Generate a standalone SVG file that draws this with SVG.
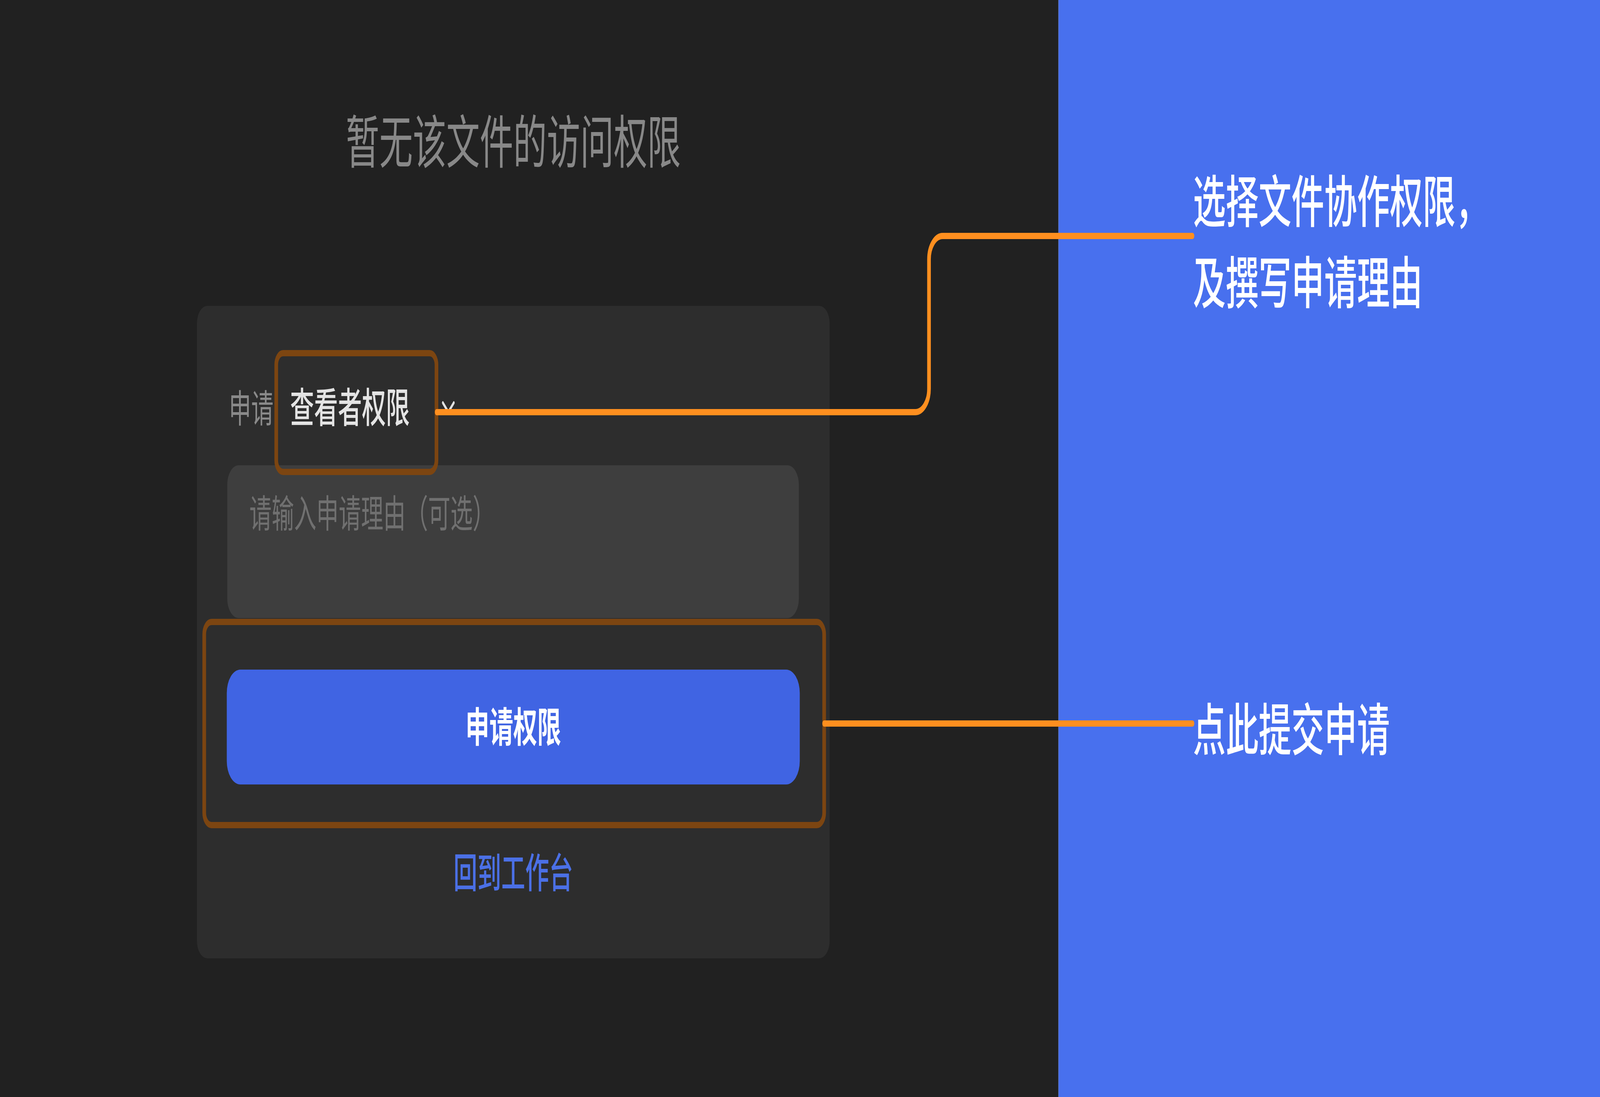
<svg xmlns="http://www.w3.org/2000/svg" width="7020" height="2808" viewBox="0 0 7020 2808" preserveAspectRatio="none" style="width:100%;height:100%">
<style>
text{font-family:"Noto Sans CJK SC","Noto Sans",sans-serif}
.hl{fill:none;stroke:#7c4511;stroke-width:16}
.conn{fill:none;stroke:#ff8f1f;stroke-width:16;stroke-linecap:round;stroke-linejoin:round}
.note{fill:#ffffff;font-size:144px;font-weight:500}
</style>
<rect id="bg" x="0" y="0" width="4644" height="2808" fill="#212121"/>
<rect id="panel" x="4644" y="0" width="2376" height="2808" fill="#4870ee"/>
<g id="title"><text x="2252" y="417" font-size="147" fill="#888888" text-anchor="middle">暂无该文件的访问权限</text></g>
<g id="card">
<rect x="864" y="783" width="2776" height="1670" rx="45" fill="#2d2d2d"/>
</g>
<g id="selector">
<text x="1004" y="1081" font-size="98" fill="#8a8a8a">申请</text>
<text x="1273" y="1081" font-size="105" font-weight="500" fill="#e4e4e4">查看者权限</text>
<polyline points="1943,1031 1967,1055 1991,1031" fill="none" stroke="#e2e2e2" stroke-width="8" stroke-linecap="round" stroke-linejoin="round"/>
</g>
<g id="reason-input">
<rect x="997" y="1191" width="2508" height="391" rx="50" fill="#3e3e3e"/>
<text x="1094" y="1350" font-size="98" fill="#707070">请输入申请理由（可选）</text>
</g>
<g id="apply-button">
<rect x="995" y="1714" width="2514" height="294" rx="60" fill="#4064e3"/>
<text x="2252" y="1899" font-size="105" font-weight="700" fill="#ffffff" text-anchor="middle">申请权限</text>
</g>
<g id="back-link"><text x="2252" y="2272" font-size="105" font-weight="500" fill="#4b70e6" text-anchor="middle">回到工作台</text></g>
<g id="highlight-selector"><rect class="hl" x="1212" y="904" width="703" height="304" rx="30"/></g>
<g id="highlight-button"><rect class="hl" x="896" y="1592" width="2720" height="520" rx="32"/></g>
<g id="connectors">
<path class="conn" d="M1916,1055 H4016 A60,60 0 0 0 4076,995 V664 A60,60 0 0 1 4136,604 H5232"/>
<path class="conn" d="M3616,1852 H5232"/>
</g>
<g id="note-select">
<text class="note" x="5234" y="569">选择文件协作权限，</text>
<text class="note" x="5234" y="777">及撰写申请理由</text>
</g>
<g id="note-submit"><text class="note" x="5234" y="1921">点此提交申请</text></g>
</svg>
